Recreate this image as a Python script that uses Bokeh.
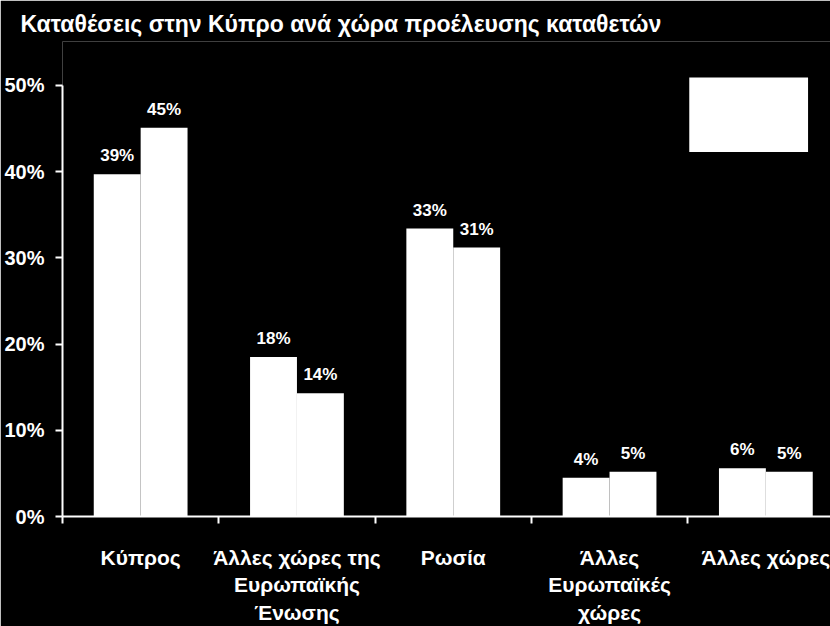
from bokeh.plotting import figure
from bokeh.models import (ColumnDataSource, Range1d, FixedTicker, LabelSet,
                          BoxAnnotation)
from bokeh.core.properties import value
from bokeh.transform import dodge
from bokeh.embed import file_html
from bokeh.resources import INLINE

# ---- data ----
title_text = "Καταθέσεις στην Κύπρο ανά χώρα προέλευσης καταθετών"
categories = ["Κύπρος", "Άλλες χώρες της\nΕυρωπαϊκής\nΈνωσης", "Ρωσία",
              "Άλλες\nΕυρωπαϊκές\nχώρες", "Άλλες χώρες"]
series_a = [39.7, 18.5, 33.4, 4.5, 5.6]
series_b = [45.1, 14.3, 31.2, 5.2, 5.2]
labels_a = ["39%", "18%", "33%", "4%", "6%"]
labels_b = ["45%", "14%", "31%", "5%", "5%"]
y_ticks = [0, 10, 20, 30, 40, 50]
y_tick_labels = ["0%", "10%", "20%", "30%", "40%", "50%"]

centers = [i + 0.5 for i in range(len(categories))]
boundaries = list(range(len(categories) + 1))

src = ColumnDataSource(dict(x=centers, a=series_a, b=series_b,
                            la=labels_a, lb=labels_b))

FONT = "Liberation Sans"

p = figure(width=830, height=626, output_backend="svg", toolbar_location=None,
           x_range=Range1d(0, 4.9136), y_range=Range1d(0, 55.1),
           min_border_left=62, min_border_right=0, min_border_top=41,
           min_border_bottom=110, background_fill_color="black",
           border_fill_color="black", outline_line_color=None,
           title=title_text)

p.title.text_color = "white"
p.title.text_font = FONT
p.title.text_font_style = "bold"
p.title.text_font_size = "23px"
p.title.align = "left"
p.title.offset = -42

p.xgrid.visible = False
p.ygrid.visible = False

bar_w = 0.3
p.vbar(x=dodge("x", -0.15), top="a", width=bar_w, source=src,
       fill_color="white", line_color=None)
p.vbar(x=dodge("x", 0.15), top="b", width=bar_w, source=src,
       fill_color="white", line_color=None)

for col, lab, off in (("a", "la", -0.15), ("b", "lb", 0.15)):
    ls = LabelSet(x=dodge("x", off), y=col, text=lab, source=src,
                  text_align="center", text_baseline="alphabetic", y_offset=13,
                  text_color="white", text_font=value(FONT),
                  text_font_style="bold", text_font_size="17px")
    p.add_layout(ls)

# legend placeholder (white box as in the original)
p.add_layout(BoxAnnotation(left=4.01, right=4.77, top=50.93, bottom=42.27,
                           fill_color="white", fill_alpha=1.0, line_color=None))

# x axis
xa = p.xaxis[0]
xa.ticker = FixedTicker(ticks=centers, minor_ticks=boundaries)
xa.major_label_overrides = {c: l for c, l in zip(centers, categories)}
xa.bounds = (0, 5)
xa.axis_line_color = "white"
xa.axis_line_width = 2
xa.major_tick_line_color = None
xa.major_tick_out = 0
xa.major_tick_in = 0
xa.minor_tick_line_color = "white"
xa.minor_tick_line_width = 2
xa.minor_tick_out = 7
xa.minor_tick_in = 0
xa.major_label_standoff = 22
xa.major_label_text_color = "white"
xa.major_label_text_font = FONT
xa.major_label_text_font_style = "bold"
xa.major_label_text_font_size = "21px"

# y axis
ya = p.yaxis[0]
ya.ticker = FixedTicker(ticks=y_ticks, minor_ticks=[])
ya.major_label_overrides = {t: l for t, l in zip(y_ticks, y_tick_labels)}
ya.bounds = (0, 50)
ya.axis_line_color = "white"
ya.axis_line_width = 2
ya.major_tick_line_color = "white"
ya.major_tick_line_width = 2
ya.major_tick_out = 7
ya.major_tick_in = 0
ya.minor_tick_line_color = None
ya.major_label_standoff = 11
ya.major_label_text_color = "white"
ya.major_label_text_font = FONT
ya.major_label_text_font_style = "bold"
ya.major_label_text_font_size = "20px"

open("out.html", "w").write(file_html(p, INLINE))
